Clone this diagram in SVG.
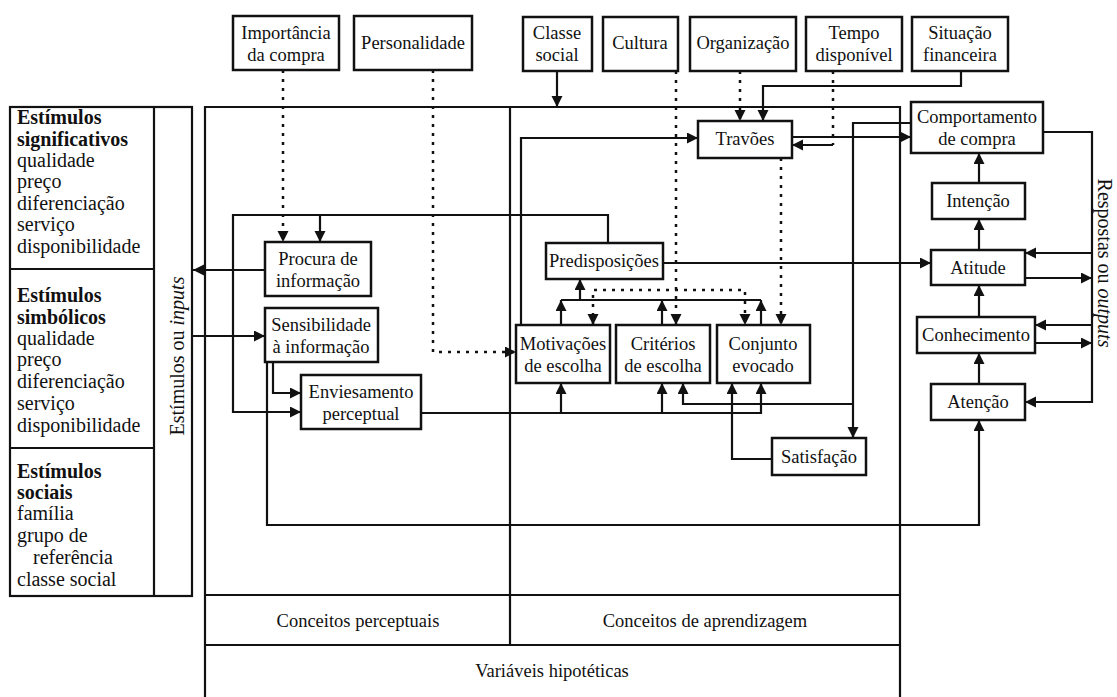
<svg xmlns="http://www.w3.org/2000/svg" width="1117" height="697" viewBox="0 0 1117 697">
  <style>
    .box { fill: #ffffff; stroke: #111111; stroke-width: 2.5; }
    .frame { fill: none; stroke: #111111; stroke-width: 2.2; }
    .ln { fill: none; stroke: #111111; stroke-width: 2.2; }
    .dot { fill: none; stroke: #111111; stroke-width: 2.5; stroke-dasharray: 3 6; }
    .arr { marker-end: url(#ah); }
    .t { font-family: "Liberation Serif", "Times New Roman", serif; font-size: 18.5px; fill: #111111; text-anchor: middle; }
    .lt { font-family: "Liberation Serif", "Times New Roman", serif; font-size: 20px; fill: #111111; }
    .side { font-family: "Liberation Serif", "Times New Roman", serif; font-size: 20px; fill: #111111; text-anchor: middle; }
    .b { font-weight: bold; }
    .it { font-style: italic; }
  </style>
  <defs>
    <marker id="ah" markerUnits="userSpaceOnUse" markerWidth="12" markerHeight="12" refX="11" refY="5.5" orient="auto-start-reverse">
      <path d="M0,0 L11,5.5 L0,11 Z" fill="#111111"/>
    </marker>
  </defs>

  <rect width="1117" height="697" fill="#ffffff"/>

  <!-- outer frames -->
  <g id="frames">
    <rect class="frame" x="10" y="107" width="182" height="489"/>
    <line class="frame" x1="154" y1="107" x2="154" y2="596"/>
    <line class="frame" x1="10" y1="269" x2="154" y2="269"/>
    <line class="frame" x1="10" y1="448" x2="154" y2="448"/>
    <path class="frame" d="M205,700 V107 H900 V700"/>
    <line class="frame" x1="510" y1="107" x2="510" y2="645"/>
    <line class="frame" x1="205" y1="595" x2="900" y2="595"/>
    <line class="frame" x1="205" y1="645" x2="900" y2="645"/>
  </g>

  <!-- stimulus lists -->
  <g id="estimulos">
    <text class="lt b" x="17" y="124">Estímulos</text>
    <text class="lt b" x="17" y="146">significativos</text>
    <text class="lt" x="17" y="167">qualidade</text>
    <text class="lt" x="17" y="188">preço</text>
    <text class="lt" x="17" y="210">diferenciação</text>
    <text class="lt" x="17" y="231">serviço</text>
    <text class="lt" x="17" y="253">disponibilidade</text>

    <text class="lt b" x="17" y="302">Estímulos</text>
    <text class="lt b" x="17" y="324">simbólicos</text>
    <text class="lt" x="17" y="345">qualidade</text>
    <text class="lt" x="17" y="366">preço</text>
    <text class="lt" x="17" y="388">diferenciação</text>
    <text class="lt" x="17" y="410">serviço</text>
    <text class="lt" x="17" y="432">disponibilidade</text>

    <text class="lt b" x="17" y="478">Estímulos</text>
    <text class="lt b" x="17" y="499">sociais</text>
    <text class="lt" x="17" y="520">família</text>
    <text class="lt" x="17" y="542">grupo de</text>
    <text class="lt" x="33" y="564">referência</text>
    <text class="lt" x="17" y="586">classe social</text>
  </g>

  <text class="side" transform="translate(184,356) rotate(-90)">Estímulos ou <tspan class="it">inputs</tspan></text>
  <text class="side" transform="translate(1098,263) rotate(90)">Respostas ou <tspan class="it">outputs</tspan></text>

  <!-- connectors -->
  <g id="connectors">
    <path class="ln arr" d="M557,71 V107"/>
    <path class="dot arr" d="M283,70 V242"/>
    <path class="dot arr" d="M433,70 V352 H516"/>
    <path class="dot arr" d="M676,71 V325"/>
    <path class="dot arr" d="M593,325 V290 H745 V325" marker-start="url(#ah)"/>
    <path class="dot arr" d="M740,71 V121"/>
    <path class="ln arr" d="M961,71 V86 H763 V121"/>
    <path class="dot" d="M833,71 V145"/>
    <path class="ln arr" d="M833,145 H792"/>
    <path class="dot arr" d="M781,158 V325"/>
    <path class="ln arr" d="M792,137 H911"/>
    <path class="ln arr" d="M521,325 V138 H698"/>
    <path class="ln arr" d="M911,123 H853 V438"/>
    <path class="ln arr" d="M853,404 H683 V383"/>
    <path class="ln arr" d="M772,459 H732 V383"/>
    <path class="ln arr" d="M421,413 H761 V383"/>
    <path class="ln arr" d="M561,413 V383"/>
    <path class="ln arr" d="M662,413 V383"/>
    <path class="ln arr" d="M561,325 V300"/>
    <path class="ln arr" d="M662,325 V300"/>
    <path class="ln arr" d="M761,325 V300"/>
    <path class="ln" d="M561,300 H761"/>
    <path class="ln arr" d="M580,300 V279"/>
    <path class="ln arr" d="M663,263 H931"/>
    <path class="ln arr" d="M608,243 V215 H233 V412 H301"/>
    <path class="ln arr" d="M320,215 V242"/>
    <path class="ln arr" d="M265,270 H193"/>
    <path class="ln arr" d="M192,336 H265"/>
    <path class="ln arr" d="M273,362 V393 H301"/>
    <path class="ln arr" d="M267,362 V525 H979 V420"/>
    <path class="ln arr" d="M1043,132 H1092 V402 H1025"/>
    <path class="ln arr" d="M1092,253 H1025"/>
    <path class="ln arr" d="M1025,278 H1092"/>
    <path class="ln arr" d="M1092,325 H1035"/>
    <path class="ln arr" d="M1035,343 H1092"/>
    <path class="ln arr" d="M979,384 V353"/>
    <path class="ln arr" d="M979,317 V285"/>
    <path class="ln arr" d="M979,250 V219"/>
    <path class="ln arr" d="M979,183 V153"/>
  </g>

  <!-- top influences -->
  <g id="importancia"><rect class="box" x="233" y="16" width="106" height="54"/><text class="t" x="286" y="39">Importância</text><text class="t" x="286" y="61">da compra</text></g>
  <g id="personalidade"><rect class="box" x="354" y="16" width="118" height="54"/><text class="t" x="413" y="49">Personalidade</text></g>
  <g id="classe"><rect class="box" x="523" y="17" width="69" height="54"/><text class="t" x="557" y="39">Classe</text><text class="t" x="557" y="61">social</text></g>
  <g id="cultura"><rect class="box" x="603" y="17" width="75" height="54"/><text class="t" x="640" y="49">Cultura</text></g>
  <g id="organizacao"><rect class="box" x="690" y="17" width="106" height="54"/><text class="t" x="743" y="49">Organização</text></g>
  <g id="tempo"><rect class="box" x="806" y="17" width="96" height="54"/><text class="t" x="854" y="39">Tempo</text><text class="t" x="854" y="61">disponível</text></g>
  <g id="situacao"><rect class="box" x="912" y="17" width="96" height="54"/><text class="t" x="960" y="39">Situação</text><text class="t" x="960" y="61">financeira</text></g>

  <!-- perceptual concepts -->
  <g id="procura"><rect class="box" x="265" y="242" width="106" height="54"/><text class="t" x="318" y="265">Procura de</text><text class="t" x="318" y="287">informação</text></g>
  <g id="sensibilidade"><rect class="box" x="265" y="308" width="113" height="54"/><text class="t" x="321" y="331">Sensibilidade</text><text class="t" x="321" y="353">à informação</text></g>
  <g id="enviesamento"><rect class="box" x="301" y="375" width="120" height="54"/><text class="t" x="361" y="398">Enviesamento</text><text class="t" x="361" y="420">perceptual</text></g>

  <!-- learning concepts -->
  <g id="travoes"><rect class="box" x="698" y="121" width="94" height="37"/><text class="t" x="745" y="145">Travões</text></g>
  <g id="predisposicoes"><rect class="box" x="546" y="243" width="117" height="36"/><text class="t" x="604" y="267">Predisposições</text></g>
  <g id="motivacoes"><rect class="box" x="516" y="325" width="94" height="58"/><text class="t" x="563" y="350">Motivações</text><text class="t" x="563" y="372">de escolha</text></g>
  <g id="criterios"><rect class="box" x="616" y="325" width="94" height="58"/><text class="t" x="663" y="350">Critérios</text><text class="t" x="663" y="372">de escolha</text></g>
  <g id="conjunto"><rect class="box" x="717" y="325" width="93" height="58"/><text class="t" x="763" y="350">Conjunto</text><text class="t" x="763" y="372">evocado</text></g>
  <g id="satisfacao"><rect class="box" x="772" y="438" width="94" height="37"/><text class="t" x="819" y="463">Satisfação</text></g>

  <!-- response chain -->
  <g id="comportamento"><rect class="box" x="911" y="102" width="132" height="51"/><text class="t" x="977" y="123">Comportamento</text><text class="t" x="977" y="145">de compra</text></g>
  <g id="intencao"><rect class="box" x="932" y="183" width="93" height="36"/><text class="t" x="978" y="207">Intenção</text></g>
  <g id="atitude"><rect class="box" x="931" y="250" width="94" height="35"/><text class="t" x="978" y="274">Atitude</text></g>
  <g id="conhecimento"><rect class="box" x="917" y="317" width="118" height="36"/><text class="t" x="976" y="341">Conhecimento</text></g>
  <g id="atencao"><rect class="box" x="931" y="384" width="94" height="36"/><text class="t" x="978" y="408">Atenção</text></g>

  <!-- bottom rows -->
  <g id="rodape">
    <text class="t" x="358" y="627" font-size="19">Conceitos perceptuais</text>
    <text class="t" x="705" y="627" font-size="19">Conceitos de aprendizagem</text>
    <text class="t" x="552" y="677" font-size="19">Variáveis hipotéticas</text>
  </g>
</svg>
